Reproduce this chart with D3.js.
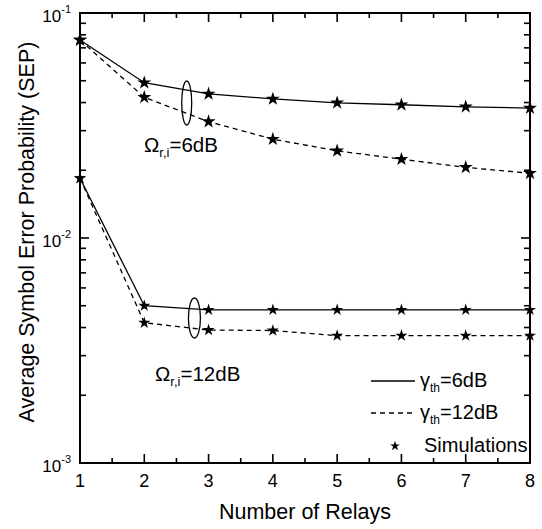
<!DOCTYPE html>
<html>
<head>
<meta charset="utf-8">
<script src="https://cdn.jsdelivr.net/npm/d3@7"></script>
<style>
  body { margin: 0; background: #fff; }
  text { font-family: Arial, "Liberation Sans", sans-serif; fill: #000; }
</style>
</head>
<body>
<svg id="chart" width="542" height="529"></svg>
<script>
// relays on the x axis
const relays = [1, 2, 3, 4, 5, 6, 7, 8];

// SEP, Omega = 6dB
const sepOmega6Gamma6 = [0.0759, 0.0490, 0.0437, 0.0415, 0.0399, 0.0391, 0.0383, 0.0378];
const sepOmega6Gamma12 = [0.0759, 0.0422, 0.0329, 0.0275, 0.0244, 0.0224, 0.0206, 0.0194];

// SEP, Omega = 12dB
const sepOmega12Gamma6 = [0.01843, 0.0050, 0.00479, 0.00479, 0.00479, 0.00479, 0.00479, 0.00479];
const sepOmega12Gamma12 = [0.01843, 0.0042, 0.0039, 0.00388, 0.00368, 0.00368, 0.00368, 0.00368];

const yTickExps = [-1, -2, -3];

const svg = d3.select('#chart');
const mLeft = 80, mRight = 530, mTop = 13, mBottom = 463;

const x = d3.scaleLinear().domain([1, 8]).range([mLeft, mRight]);
const y = d3.scaleLog().domain([1e-3, 1e-1]).range([mBottom, mTop]);

// minor y ticks 2..9 per decade
const yMinor = [];
[1e-3, 1e-2].forEach(d => { for (let k = 2; k <= 9; k++) yMinor.push(d * k); });
const xMinor = d3.range(1.5, 8, 1);

const axisG = svg.append('g').attr('stroke', '#000').attr('stroke-width', 1.6);

// left + right ticks
yTickExps.forEach(e => {
  const v = Math.pow(10, e);
  axisG.append('line').attr('x1', mLeft).attr('x2', mLeft + 9).attr('y1', y(v)).attr('y2', y(v));
  axisG.append('line').attr('x1', mRight).attr('x2', mRight - 9).attr('y1', y(v)).attr('y2', y(v));
});
yMinor.forEach(v => {
  axisG.append('line').attr('x1', mLeft).attr('x2', mLeft + 6).attr('y1', y(v)).attr('y2', y(v));
  axisG.append('line').attr('x1', mRight).attr('x2', mRight - 6).attr('y1', y(v)).attr('y2', y(v));
});
// bottom + top ticks
relays.forEach(r => {
  axisG.append('line').attr('x1', x(r)).attr('x2', x(r)).attr('y1', mBottom).attr('y2', mBottom - 9);
  axisG.append('line').attr('x1', x(r)).attr('x2', x(r)).attr('y1', mTop).attr('y2', mTop + 9);
});
xMinor.forEach(r => {
  axisG.append('line').attr('x1', x(r)).attr('x2', x(r)).attr('y1', mBottom).attr('y2', mBottom - 5);
  axisG.append('line').attr('x1', x(r)).attr('x2', x(r)).attr('y1', mTop).attr('y2', mTop + 5);
});

// frame
svg.append('rect')
  .attr('x', mLeft).attr('y', mTop)
  .attr('width', mRight - mLeft).attr('height', mBottom - mTop)
  .attr('fill', 'none').attr('stroke', '#000').attr('stroke-width', 2);

// tick labels
svg.selectAll('.xlab').data(relays).enter().append('text')
  .attr('class', 'xlab')
  .attr('x', d => x(d)).attr('y', 487)
  .attr('text-anchor', 'middle')
  .attr('font-size', 18)
  .text(d => d);

yTickExps.forEach(e => {
  const t = svg.append('text')
    .attr('x', 71).attr('y', y(Math.pow(10, e)) + 9)
    .attr('text-anchor', 'end')
    .attr('font-size', 17);
  t.append('tspan').text('10');
  t.append('tspan').attr('dy', -9).attr('font-size', 11).text('-' + Math.abs(e));
});

// axis titles
svg.append('text')
  .attr('x', (mLeft + mRight) / 2).attr('y', 519)
  .attr('text-anchor', 'middle').attr('font-size', 21.5)
  .text('Number of Relays');

svg.append('text')
  .attr('transform', 'translate(34,232) rotate(-90)')
  .attr('text-anchor', 'middle').attr('font-size', 21.5)
  .text('Average Symbol Error Probability (SEP)');

// curves
const line = d3.line().x((d, i) => x(relays[i])).y(d => y(d));
const curves = [
  { data: sepOmega6Gamma6, dash: null, star: 60 },
  { data: sepOmega6Gamma12, dash: '5,4', star: 60 },
  { data: sepOmega12Gamma6, dash: null, star: 45 },
  { data: sepOmega12Gamma12, dash: '5,4', star: 45 }
];

const plot = svg.append('g');
curves.forEach(c => {
  plot.append('path')
    .attr('d', line(c.data))
    .attr('fill', 'none')
    .attr('stroke', '#000')
    .attr('stroke-width', 1.3)
    .attr('stroke-dasharray', c.dash);
  plot.selectAll(null).data(c.data).enter().append('path')
    .attr('d', d3.symbol(d3.symbolStar, c.star)())
    .attr('transform', (d, i) => `translate(${x(relays[i])},${y(d)})`)
    .attr('fill', '#000');
});

// ellipses marking the Omega groups
plot.append('ellipse')
  .attr('cx', x(2.66)).attr('cy', 103).attr('rx', 5).attr('ry', 22)
  .attr('fill', 'none').attr('stroke', '#000').attr('stroke-width', 1.3);
plot.append('ellipse')
  .attr('cx', x(2.78)).attr('cy', 318).attr('rx', 6).attr('ry', 20)
  .attr('fill', 'none').attr('stroke', '#000').attr('stroke-width', 1.3);

function omegaLabel(px, py, val) {
  const t = svg.append('text').attr('x', px).attr('y', py).attr('font-size', 20.5);
  t.append('tspan').text('\u03A9');
  t.append('tspan').attr('dy', 5).attr('font-size', 13).text('r,i');
  t.append('tspan').attr('dy', -5).text('=' + val);
}
omegaLabel(144, 152, '6dB');
omegaLabel(155, 381, '12dB');

// legend
const leg = svg.append('g');
const legItems = [
  { dash: null, label: '6dB', y: 381 },
  { dash: '5,4', label: '12dB', y: 413 }
];
legItems.forEach(it => {
  leg.append('line')
    .attr('x1', 371).attr('x2', 415).attr('y1', it.y).attr('y2', it.y)
    .attr('stroke', '#000').attr('stroke-width', 1.3)
    .attr('stroke-dasharray', it.dash);
  const t = leg.append('text').attr('x', 420).attr('y', it.y + 6).attr('font-size', 20);
  t.append('tspan').text('\u03B3');
  t.append('tspan').attr('dy', 5).attr('font-size', 12).text('th');
  t.append('tspan').attr('dy', -5).text('=' + it.label);
});
leg.append('path')
  .attr('d', d3.symbol(d3.symbolStar, 30)())
  .attr('transform', 'translate(395,446)')
  .attr('fill', '#000');
leg.append('text').attr('x', 424).attr('y', 452).attr('font-size', 20).text('Simulations');
</script>
</body>
</html>
